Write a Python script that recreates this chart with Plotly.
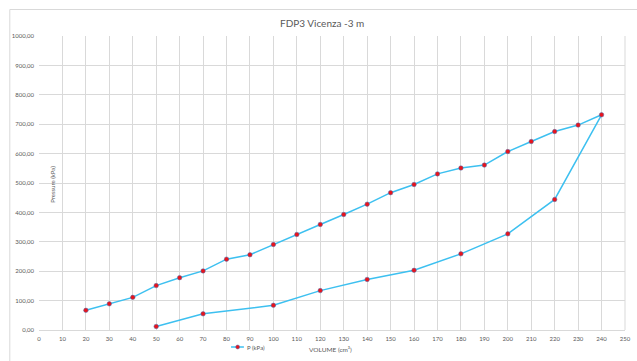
import plotly.graph_objects as go

# Data (loading then unloading)
volume = [20, 30, 40, 50, 60, 70, 80, 90, 100, 110, 120, 130, 140, 150, 160, 170,
          180, 190, 200, 210, 220, 230, 240,
          220, 200, 180, 160, 140, 120, 100, 70, 50]
pressure = [67, 89, 111, 151, 178, 201, 241, 256, 291, 325, 359, 393, 428, 467, 495, 531,
            551, 561, 607, 641, 675, 697, 732,
            444, 327, 259, 203, 172, 134, 84, 55, 12]
series_name = "P (kPa)"
title_text = "FDP3 Vicenza -3 m"
x_title = "VOLUME (cm³)"
y_title = "Pressure (kPa)"

FONT = "Lato, 'Open Sans', sans-serif"
W, H = 637, 361
ML, MR, MT, MB = 39, 6, 36, 31
PW, PH = W - ML - MR, H - MT - MB
LINE_COLOR = "#3DC0F0"
MARKER_COLOR = "#E8141C"
MARKER_EDGE = "#4A6FB0"

def px_x(p):
    return (p - ML) / PW

def px_y(p):
    return 1 - (p - MT) / PH

fig = go.Figure()
fig.add_trace(go.Scatter(
    x=volume, y=pressure, mode="lines+markers", name=series_name,
    line=dict(color=LINE_COLOR, width=1.5),
    marker=dict(color=MARKER_COLOR, size=4.5, line=dict(color=MARKER_EDGE, width=0.5)),
    showlegend=False,
))

# legend key drawn as decoration (short line + dot + label)
leg_y = px_y(347)
legend_shapes = [
    dict(type="line", xref="paper", yref="paper", x0=px_x(233), x1=px_x(246), y0=leg_y, y1=leg_y,
         line=dict(color=LINE_COLOR, width=1.5)),
    dict(type="circle", xref="paper", yref="paper",
         x0=px_x(237.7), x1=px_x(241.7), y0=px_y(349), y1=px_y(345),
         fillcolor=MARKER_COLOR, line=dict(color=MARKER_EDGE, width=0.5)),
]

fig.update_layout(
    width=W, height=H,
    margin=dict(l=ML, r=MR, t=MT, b=MB),
    paper_bgcolor="white", plot_bgcolor="white",
    separators=",.",
    font=dict(family=FONT, color="#595959", size=6),
    showlegend=False,
    xaxis=dict(range=[0, 250], tickmode="linear", tick0=0, dtick=10,
               showgrid=True, gridcolor="#D9D9D9", gridwidth=1,
               showline=True, linecolor="#D9D9D9", linewidth=1, mirror=False,
               zeroline=False, ticks="", tickfont=dict(size=6, color="#595959"),
               ticklabelstandoff=3),
    yaxis=dict(range=[0, 1000], tickmode="linear", tick0=0, dtick=100, tickformat=".2f",
               showgrid=True, gridcolor="#D9D9D9", gridwidth=1,
               showline=False, zeroline=False, ticks="",
               tickfont=dict(size=6, color="#595959"), ticklabelstandoff=4),
    shapes=[
        dict(type="rect", xref="paper", yref="paper",
             x0=px_x(9.5), x1=px_x(660), y0=px_y(380), y1=px_y(9.5),
             line=dict(color="#D9D9D9", width=1), fillcolor="rgba(0,0,0,0)", layer="below"),
        dict(type="line", xref="paper", yref="paper", x0=1, x1=1, y0=0, y1=1,
             line=dict(color="#D9D9D9", width=1)),
    ] + legend_shapes,
    annotations=[
        dict(text=title_text, xref="paper", yref="paper", x=px_x(324.5), y=px_y(22.7),
             xanchor="center", yanchor="middle", showarrow=False,
             font=dict(size=10, color="#595959", family=FONT)),
        dict(text=y_title, xref="paper", yref="paper", x=px_x(52), y=px_y(184),
             xanchor="center", yanchor="middle", showarrow=False, textangle=-90,
             font=dict(size=6, color="#595959", family=FONT)),
        dict(text=x_title, xref="paper", yref="paper", x=px_x(333), y=px_y(349),
             xanchor="center", yanchor="middle", showarrow=False,
             font=dict(size=6.5, color="#595959", family=FONT)),
        dict(text=series_name, xref="paper", yref="paper", x=px_x(247), y=leg_y,
             xanchor="left", yanchor="middle", showarrow=False,
             font=dict(size=6, color="#595959", family=FONT)),
    ],
)

fig.write_html("out.html")
